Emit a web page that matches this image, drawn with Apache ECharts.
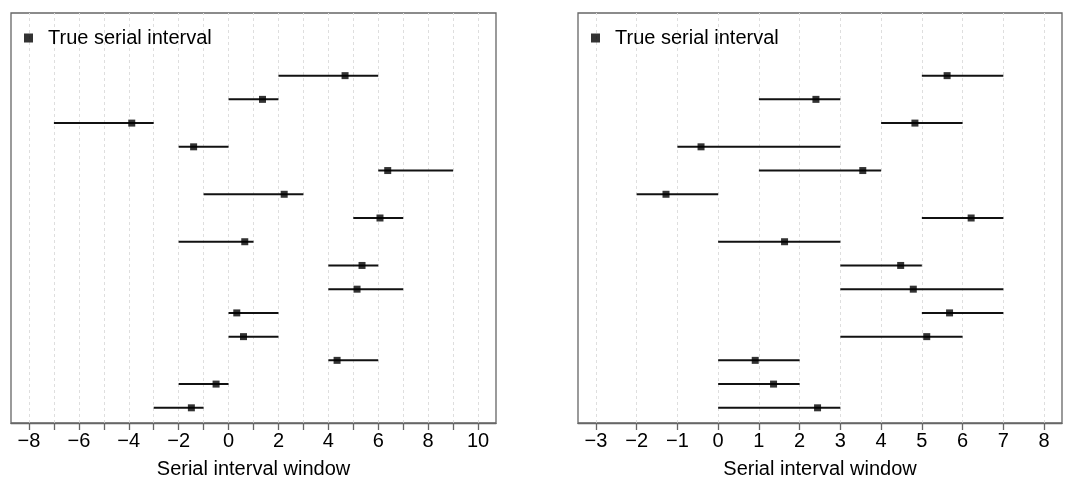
<!DOCTYPE html>
<html>
<head>
<meta charset="utf-8">
<script src="https://cdn.jsdelivr.net/npm/echarts@6/dist/echarts.min.js"></script>
<style>
  html, body { margin: 0; padding: 0; background: #fff; }
  #chart { width: 1066px; height: 478px; }
</style>
</head>
<body>
<div id="chart"></div>
<script>
// rows from top to bottom (row 15 at the top, row 1 at the bottom)
var rows = [15, 14, 13, 12, 11, 10, 9, 8, 7, 6, 5, 4, 3, 2, 1];

// left panel
var leftLo    = [2, 0, -7, -2, 6, -1, 5, -2, 4, 4, 0, 0, 4, -2, -3];
var leftHi    = [6, 2, -3, 0, 9, 3, 7, 1, 6, 7, 2, 2, 6, 0, -1];
var leftTrue  = [4.67, 1.36, -3.88, -1.40, 6.38, 2.23, 6.07, 0.65, 5.35, 5.15, 0.33, 0.60, 4.35, -0.50, -1.49];
var leftTicks = [-8, -7, -6, -5, -4, -3, -2, -1, 0, 1, 2, 3, 4, 5, 6, 7, 8, 9, 10];
var leftLabels = [-8, -6, -4, -2, 0, 2, 4, 6, 8, 10];

// right panel
var rightLo    = [5, 1, 4, -1, 1, -2, 5, 0, 3, 3, 5, 3, 0, 0, 0];
var rightHi    = [7, 3, 6, 3, 4, 0, 7, 3, 5, 7, 7, 6, 2, 2, 3];
var rightTrue  = [5.62, 2.40, 4.83, -0.42, 3.55, -1.28, 6.21, 1.63, 4.48, 4.79, 5.68, 5.12, 0.91, 1.36, 2.44];
var rightTicks = [-3, -2, -1, 0, 1, 2, 3, 4, 5, 6, 7, 8];
var rightLabels = rightTicks;

var legendName = 'True serial interval';
var font = 'Liberation Sans, Arial, Helvetica, sans-serif';

var chart = echarts.init(document.getElementById('chart'));

function minus(v) { return String(v).replace('-', '\u2212'); }

function xAxisFor(idx, lo, hi, ticks, labels) {
    var pad = (hi - lo) * 0.04;
    return {
        type: 'value', gridIndex: idx,
        min: lo - pad, max: hi + pad,
        name: 'Serial interval window', nameLocation: 'middle', nameGap: 36,
        nameTextStyle: { fontFamily: font, fontSize: 20, color: '#000' },
        axisLine: { show: true, lineStyle: { color: '#666', width: 1.3 } },
        axisTick: { show: true, length: 7, customValues: ticks, lineStyle: { color: '#666', width: 1.3 } },
        axisLabel: { customValues: labels, margin: 8, fontFamily: font, fontSize: 20, color: '#000',
            formatter: function (v) { return minus(v); } },
        splitLine: { show: false }
    };
}

function yAxisFor(idx) {
    return {
        type: 'value', gridIndex: idx, min: 0.36, max: 17.64,
        axisLine: { show: false }, axisTick: { show: false }, axisLabel: { show: false },
        splitLine: { show: false }
    };
}

function gridSeries(idx, ticks) {
    return {
        type: 'line', xAxisIndex: idx, yAxisIndex: idx, data: [], silent: true, z: 0,
        markLine: {
            symbol: 'none', silent: true, label: { show: false }, z: 0,
            lineStyle: { color: '#dedede', type: [3, 3], width: 1 },
            data: ticks.map(function (t) { return { xAxis: t }; })
        }
    };
}

function barSeries(idx, lo, hi) {
    return {
        type: 'custom', xAxisIndex: idx, yAxisIndex: idx, silent: true, z: 4,
        data: rows.map(function (r, i) { return [lo[i], hi[i], r]; }),
        renderItem: function (params, api) {
            var a = api.coord([api.value(0), api.value(2)]);
            var b = api.coord([api.value(1), api.value(2)]);
            return { type: 'line', shape: { x1: a[0], y1: a[1], x2: b[0], y2: b[1] },
                style: { stroke: '#111', lineWidth: 2 } };
        }
    };
}

function pointSeries(idx, vals) {
    return {
        name: legendName, type: 'scatter', xAxisIndex: idx, yAxisIndex: idx,
        symbol: 'rect', symbolSize: 7, itemStyle: { color: '#000', borderWidth: 0 },
        data: rows.map(function (r, i) { return [vals[i], r]; }), z: 5
    };
}

function legendFor(left) {
    return {
        data: [legendName], left: left, top: 28, padding: 0,
        icon: 'rect', itemWidth: 9, itemHeight: 9, itemGap: 0,
        itemStyle: { color: '#000', borderWidth: 0 },
        textStyle: { fontFamily: font, fontSize: 20, color: '#000', padding: [0, 0, 0, 10] }
    };
}

chart.setOption({
    animation: false,
    backgroundColor: '#fff',
    legend: [legendFor(24), legendFor(591)],
    grid: [
        { left: 11, top: 13, width: 485, height: 410, show: true, borderColor: '#666', borderWidth: 1.3,
          outerBoundsMode: 'none' },
        { left: 578, top: 13, width: 484, height: 410, show: true, borderColor: '#666', borderWidth: 1.3,
          outerBoundsMode: 'none' }
    ],
    xAxis: [
        xAxisFor(0, -8, 10, leftTicks, leftLabels),
        xAxisFor(1, -3, 8, rightTicks, rightLabels)
    ],
    yAxis: [yAxisFor(0), yAxisFor(1)],
    series: [
        gridSeries(0, leftTicks),
        gridSeries(1, rightTicks),
        barSeries(0, leftLo, leftHi),
        barSeries(1, rightLo, rightHi),
        pointSeries(0, leftTrue),
        pointSeries(1, rightTrue)
    ]
});
</script>
</body>
</html>
